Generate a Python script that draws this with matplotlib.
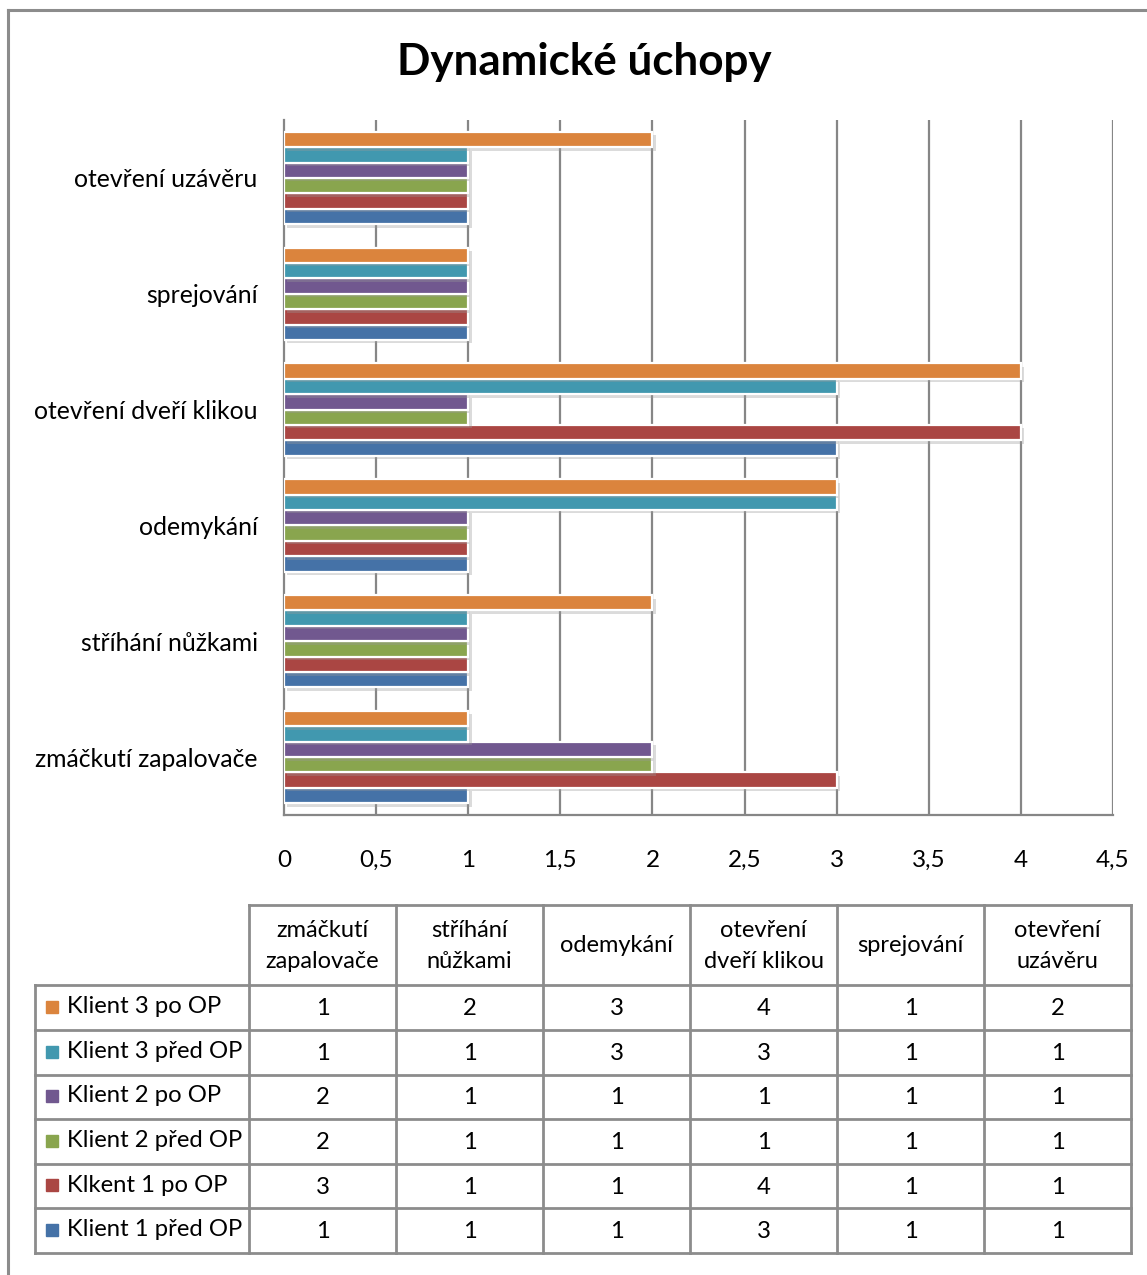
import textwrap
import matplotlib
matplotlib.use("Agg")
import matplotlib.pyplot as plt
import matplotlib.patheffects as pe

plt.rcParams["font.family"] = ["Lato", "DejaVu Sans"]

title = "Dynamické úchopy"
categories = ["zmáčkutí zapalovače", "stříhání nůžkami", "odemykání",
              "otevření dveří klikou", "sprejování", "otevření uzávěru"]

# series listed bottom-to-top within each bar group
series_names = ["Klient 1 před OP", "Klkent 1 po OP", "Klient 2 před OP",
                "Klient 2 po OP", "Klient 3 před OP", "Klient 3 po OP"]
klient1_pred = [1, 1, 1, 3, 1, 1]
klient1_po = [3, 1, 1, 4, 1, 1]
klient2_pred = [2, 1, 1, 1, 1, 1]
klient2_po = [2, 1, 1, 1, 1, 1]
klient3_pred = [1, 1, 3, 3, 1, 1]
klient3_po = [1, 2, 3, 4, 1, 2]
series_values = [klient1_pred, klient1_po, klient2_pred,
                 klient2_po, klient3_pred, klient3_po]
series_colors = ["#4572A7", "#AA4643", "#89A54E", "#71588F", "#4198AF", "#DB843D"]

x_ticks = [0, 0.5, 1, 1.5, 2, 2.5, 3, 3.5, 4, 4.5]
x_tick_labels = ["0", "0,5", "1", "1,5", "2", "2,5", "3", "3,5", "4", "4,5"]

W, H = 1147, 1275
fig = plt.figure(figsize=(W / 100, H / 100), dpi=100)

grid_col = "#868686"
line_col = "#8c8c8c"

# ---- bar chart ----
ax = fig.add_axes([284 / W, 1 - 815 / H, (1113 - 284) / W, (815 - 120) / H])
n = len(series_values)
bar_h = 0.133
shadow = [pe.SimplePatchShadow(offset=(2.5, -2.5), shadow_rgbFace="#999999", alpha=0.35),
          pe.Normal()]
for i, (vals, col) in enumerate(zip(series_values, series_colors)):
    ys = [c + (i - (n - 1) / 2) * bar_h for c in range(len(categories))]
    bars = ax.barh(ys, vals, height=bar_h, color=col, edgecolor="white",
                   linewidth=1.6, zorder=3)
    for b in bars:
        b.set_path_effects(shadow)

for xv in x_ticks[1:]:
    ax.axvline(xv, color=grid_col, lw=1.6, zorder=1)

ax.set_xlim(0, 4.5)
ax.set_ylim(-0.5, len(categories) - 0.5)
ax.set_xticks(x_ticks)
ax.set_xticklabels(x_tick_labels, fontsize=17.5)
ax.set_yticks(range(len(categories)))
ax.set_yticklabels(categories, fontsize=17.8)
ax.tick_params(axis="x", length=0, pad=25)
ax.tick_params(axis="y", length=0, pad=19)
for s in ("top", "right"):
    ax.spines[s].set_visible(False)
for s in ("left", "bottom"):
    ax.spines[s].set_color(grid_col)
    ax.spines[s].set_linewidth(1.6)
ax.set_facecolor("none")

# ---- overlay in pixel coordinates: title, frame and data table ----
ov = fig.add_axes([0, 0, 1, 1], zorder=-1)
ov.set_xlim(0, W)
ov.set_ylim(H, 0)
ov.axis("off")

ov.text(584, 62, title, ha="center", va="center", fontsize=31.7, fontweight="bold")
ov.plot([8, 8], [H, 10], color=line_col, lw=2.2, solid_capstyle="projecting")
ov.plot([8, W], [10, 10], color=line_col, lw=2.2, solid_capstyle="projecting")

col_edges = [249, 396, 543, 690, 837, 984, 1131]
head_top, head_bot = 905, 985
row_edges = [985, 1030, 1075, 1119, 1164, 1208, 1253]
label_left = 35

ov.plot([col_edges[0], col_edges[-1]], [head_top, head_top], color=line_col, lw=2)
for xe in col_edges:
    ov.plot([xe, xe], [head_top, row_edges[-1]], color=line_col, lw=2)
ov.plot([label_left, label_left], [row_edges[0], row_edges[-1]], color=line_col, lw=2)
for ye in row_edges:
    ov.plot([label_left, col_edges[-1]], [ye, ye], color=line_col, lw=2)

for j, cat in enumerate(categories):
    cx = (col_edges[j] + col_edges[j + 1]) / 2
    ov.text(cx, (head_top + head_bot) / 2 + 1, textwrap.fill(cat, 12), ha="center",
            va="center", fontsize=17, linespacing=1.55)

# rows: top-to-bottom is the reverse of the bar stacking order
for r, idx in enumerate(range(n - 1, -1, -1)):
    y0, y1 = row_edges[r], row_edges[r + 1]
    cy = (y0 + y1) / 2
    ov.add_patch(plt.Rectangle((46, cy - 7), 12, 12, color=series_colors[idx]))
    ov.text(67, cy - 1, series_names[idx], ha="left", va="center", fontsize=17.2)
    for j, v in enumerate(series_values[idx]):
        cx = (col_edges[j] + col_edges[j + 1]) / 2
        ov.text(cx, cy + 1, str(v), ha="center", va="center", fontsize=17.2)

fig.savefig("out.png", dpi=100, facecolor="white")
